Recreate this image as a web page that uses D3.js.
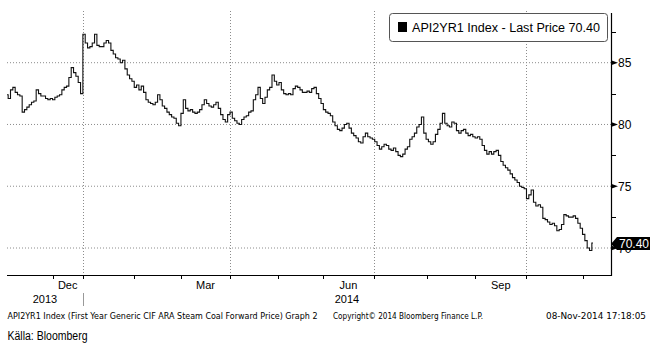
<!DOCTYPE html>
<html><head><meta charset="utf-8">
<script src="https://cdn.jsdelivr.net/npm/d3@7"></script>
<style>body{margin:0;background:#fff}svg{display:block}</style>
</head><body><svg id="c" width="656" height="347"></svg>
<script>
// Daily last price (trading-day index)
const prices = [
82.4,82.1,82.8,83.0,82.6,82.4,82.3,81.0,81.2,81.4,
81.6,81.8,81.9,82.8,82.5,82.3,82.3,82.1,82.0,82.1,
82.0,82.2,82.3,82.4,82.8,83.0,83.1,83.8,84.6,84.2,
83.9,83.4,82.5,87.3,86.6,86.2,86.3,86.6,87.3,86.4,
86.3,86.3,86.6,86.8,86.6,86.0,85.7,85.4,85.3,85.0,
85.2,84.5,84.0,83.7,83.5,83.0,83.2,82.8,83.1,82.6,
82.0,81.8,81.7,81.6,81.8,82.4,82.0,81.5,81.3,81.0,
80.8,80.6,80.5,80.1,79.9,80.9,82.0,81.3,81.1,81.2,
81.0,80.9,81.0,81.2,81.6,82.0,81.7,81.5,81.4,81.6,
81.8,81.3,80.8,80.4,80.2,80.8,81.0,80.5,80.3,80.1,
80.0,80.4,80.6,80.7,81.0,81.1,82.0,82.4,83.0,82.1,
81.7,82.2,82.8,83.0,84.0,83.5,83.2,83.4,82.8,82.5,
82.4,82.5,82.4,82.9,83.1,83.0,82.8,82.6,82.6,82.7,
82.6,82.9,83.0,82.5,82.1,81.7,81.2,81.0,80.9,80.7,
80.2,79.9,79.6,79.5,79.7,80.0,80.1,79.7,79.3,79.1,
78.9,78.6,78.5,79.0,79.3,79.0,78.9,78.8,78.6,78.3,
78.0,78.2,78.4,78.3,78.0,77.9,78.1,77.8,77.5,77.4,
77.6,78.0,78.2,78.8,79.0,79.3,79.8,80.0,80.6,79.3,
78.8,78.6,78.4,78.6,79.2,79.6,80.1,80.9,80.1,79.9,
79.8,80.2,80.1,79.5,79.3,79.5,79.6,79.3,79.1,79.2,
79.0,78.9,79.0,78.8,78.3,77.9,77.6,77.8,77.6,77.8,
77.9,77.5,77.0,76.7,76.5,76.3,76.0,75.7,75.5,75.3,
75.0,74.9,74.8,74.0,74.3,74.7,73.7,73.4,73.5,73.3,
72.4,72.3,72.1,71.9,72.0,71.8,71.4,71.5,71.9,72.7,
72.6,72.5,72.5,72.6,72.4,72.0,71.6,71.1,70.6,70.0,
69.8,70.4
];
// Month boundaries (trading-day index) and labels
const monthBounds = [19.5,32.5,54.5,74.5,95.5,116,135.5,157,180,200.5,222.5,246.5];
const monthLabels = [{name:"Dec",from:19.5,to:32.5},{name:"Mar",from:74.5,to:95.5},{name:"Jun",from:135.5,to:157},{name:"Sep",from:200.5,to:222.5}];
const quarterLines = [32.5,95.5,157,222.5];
const yearLabels = [{name:"2013",from:0,to:32.5},{name:"2014",from:32.5,to:258.7}];
const yearSeparators = [32.5];
const yMajor = [70,75,80,85];
const yMinor = [72.5,77.5,82.5,87.5];
const lastPrice = 70.40;
const legendText = "API2YR1 Index - Last Price 70.40";
const footerLeft = "API2YR1 Index (First Year Generic CIF ARA Steam Coal Forward Price) Graph 2";
const footerMid = "Copyright\u00A9 2014 Bloomberg Finance L.P.";
const footerRight = "08-Nov-2014 17:18:05";
const source = "Källa: Bloomberg";

const svg = d3.select("#c");
const L = 7, R = 611, T = 11, B = 275;
const x = d3.scaleLinear().domain([0, 258.7]).range([L, R]);
const y = d3.scaleLinear().domain([70, 85]).range([248, 62.7]);
const font = "Liberation Sans, Arial, sans-serif";

// gridlines
svg.append("g").selectAll("line").data(yMajor).join("line")
  .attr("x1", L).attr("x2", R).attr("y1", d => y(d)).attr("y2", d => y(d))
  .attr("stroke", "#8c8c8c").attr("stroke-width", 1).attr("stroke-dasharray", "1,2");
svg.append("g").selectAll("line").data(quarterLines).join("line")
  .attr("x1", d => Math.round(x(d)) + 0.5).attr("x2", d => Math.round(x(d)) + 0.5)
  .attr("y1", T).attr("y2", B)
  .attr("stroke", "#8c8c8c").attr("stroke-width", 1).attr("stroke-dasharray", "1,2");

// series
const line = d3.line().x((d, i) => x(i)).y(d => y(d)).curve(d3.curveStep);
svg.append("path").datum(prices).attr("d", line)
  .attr("fill", "none").attr("stroke", "#111").attr("stroke-width", 1.1);

// bottom axis
svg.append("line").attr("x1", L).attr("x2", R + 1).attr("y1", B + 0.5).attr("y2", B + 0.5)
  .attr("stroke", "#000").attr("stroke-width", 1.2);
svg.append("g").selectAll("line").data(monthBounds).join("line")
  .attr("x1", d => Math.round(x(d)) + 0.5).attr("x2", d => Math.round(x(d)) + 0.5)
  .attr("y1", B).attr("y2", B + 4).attr("stroke", "#000");
svg.append("g").selectAll("text").data(monthLabels).join("text")
  .attr("x", d => (x(d.from) + x(d.to)) / 2).attr("y", 289)
  .attr("text-anchor", "middle").attr("font-family", font).attr("font-size", 11)
  .attr("fill", "#000").text(d => d.name);
svg.append("g").selectAll("text").data(yearLabels).join("text")
  .attr("x", d => (x(d.from) + x(d.to)) / 2).attr("y", 303)
  .attr("text-anchor", "middle").attr("font-family", font).attr("font-size", 11)
  .attr("fill", "#000").text(d => d.name);
svg.append("g").selectAll("line").data(yearSeparators).join("line")
  .attr("x1", d => Math.round(x(d)) + 0.5).attr("x2", d => Math.round(x(d)) + 0.5)
  .attr("y1", 293).attr("y2", 306).attr("stroke", "#999");

// right axis
svg.append("line").attr("x1", R + 0.5).attr("x2", R + 0.5).attr("y1", 13).attr("y2", B + 1)
  .attr("stroke", "#000").attr("stroke-width", 1.2);
svg.append("g").selectAll("path").data(yMajor).join("path")
  .attr("d", d => `M${R},${y(d) - 2.5}L${R + 7},${y(d)}L${R},${y(d) + 2.5}Z`).attr("fill", "#000");
svg.append("g").selectAll("line").data(yMinor).join("line")
  .attr("x1", R).attr("x2", R + 5).attr("y1", d => Math.round(y(d)) + 0.5).attr("y2", d => Math.round(y(d)) + 0.5)
  .attr("stroke", "#000");
svg.append("g").selectAll("text").data(yMajor).join("text")
  .attr("x", R + 7).attr("y", d => y(d) + 4.5)
  .attr("font-family", font).attr("font-size", 12).attr("fill", "#000").text(d => d);

// last price tag
const ly = y(lastPrice);
svg.append("path")
  .attr("d", `M${R},${ly + 1}L${R + 6},${ly - 6}L${R + 39},${ly - 6}L${R + 39},${ly + 7}L${R + 6},${ly + 7}Z`)
  .attr("fill", "#000");
svg.append("text").attr("x", R + 8).attr("y", ly + 5)
  .attr("font-family", font).attr("font-size", 12).attr("fill", "#fff").text(lastPrice.toFixed(2));

// legend
const lg = svg.append("g");
lg.append("rect").attr("x", 389.5).attr("y", 13.5).attr("width", 218).attr("height", 28).attr("rx", 3)
  .attr("fill", "#fff").attr("stroke", "#555");
lg.append("rect").attr("x", 398).attr("y", 22).attr("width", 9).attr("height", 10).attr("fill", "#000");
lg.append("text").attr("x", 412).attr("y", 32).attr("font-family", font).attr("font-size", 12)
  .attr("textLength", 188).attr("lengthAdjust", "spacingAndGlyphs").attr("fill", "#000").text(legendText);

// footer
const fg = svg.append("g").attr("font-family", "DejaVu Sans, sans-serif").attr("font-size", 8).attr("fill", "#000");
fg.append("text").attr("x", 7.5).attr("y", 319).attr("textLength", 310).attr("lengthAdjust", "spacingAndGlyphs").text(footerLeft);
fg.append("text").attr("x", 333).attr("y", 319).attr("textLength", 150).attr("lengthAdjust", "spacingAndGlyphs").text(footerMid);
fg.append("text").attr("x", 546).attr("y", 319).attr("textLength", 100).attr("lengthAdjust", "spacingAndGlyphs").text(footerRight);
svg.append("text").attr("x", 7.5).attr("y", 340).attr("font-family", font).attr("font-size", 12)
  .attr("textLength", 80).attr("lengthAdjust", "spacingAndGlyphs").attr("fill", "#000").text(source);
</script></body></html>
